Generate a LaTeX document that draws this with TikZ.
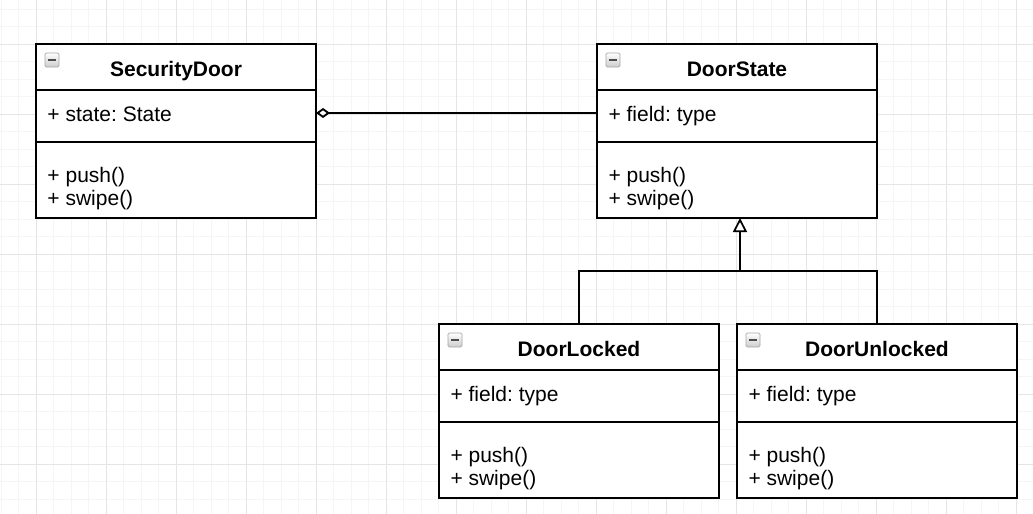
\documentclass[tikz,border=0pt]{standalone}
\usepackage{fontspec}
\setmainfont{Liberation Sans}
\usetikzlibrary{arrows.meta}
\frenchspacing
\newcommand\umlclass[7]{%
  % #1 id, #2 x, #3 y, #4 title, #5 attribute, #6 method1, #7 method2
  \node[sec,minimum height=34.5pt] (#1h) at (#2,#3) {};
  \node[sec,minimum height=39pt] (#1a) at (#1h.south west) {};
  \node[sec,minimum height=57pt] (#1m) at (#1a.south west) {};
  \node[icon] (#1i) at ({#2+9},{#3+9}) {};
  \draw[iconbar] ([xshift=2pt]#1i.west) -- ([xshift=-2pt]#1i.east);
  \node[ttl] (#1t) at ({#2+140},{#3+32}) {#4};
  \node[txt] (#1x) at ({#2+11.5},{#3+77}) {#5};
  \node[txt] (#1p) at ({#2+11.5},{#3+138}) {#6};
  \node[txt] (#1s) at ({#2+11.5},{#3+161}) {#7};
}
\begin{document}
\begin{tikzpicture}[x=0.75pt,y=-0.75pt,
  every node/.style={inner sep=0pt,outer sep=0pt},
  gminor/.style={draw=black!4,line width=0.75pt},
  gmajor/.style={draw=black!10,line width=0.75pt},
  sec/.style={draw=black,line width=1.4pt,fill=white,minimum width=210pt,anchor=north west},
  icon/.style={draw=black!35,line width=0.6pt,top color=white,bottom color=black!20,rounded corners=1pt,minimum size=10.5pt,anchor=north west},
  iconbar/.style={draw=black!70,line width=1.5pt},
  ttl/.style={anchor=base,font=\fontsize{15.75pt}{18pt}\selectfont\bfseries},
  txt/.style={anchor=base west,font=\fontsize{15.75pt}{18pt}\selectfont},
  edge/.style={draw=black,line width=1.4pt},
]
\useasboundingbox (0,0) rectangle (1033,514);
\fill[white] (0,0) rectangle (1033,514);
\foreach \k in {0,...,59} \draw[gminor] ({1+17.5*\k},0) -- ({1+17.5*\k},514);
\foreach \k in {0,...,29} \draw[gminor] (0,{9+17.5*\k}) -- (1033,{9+17.5*\k});
\foreach \k in {0,...,14} \draw[gmajor] ({36+70*\k},0) -- ({36+70*\k},514);
\foreach \k in {0,...,6} \draw[gmajor] (0,{44+70*\k}) -- (1033,{44+70*\k});

\umlclass{sd}{36}{44}{SecurityDoor}{+ state: State}{+ push()}{+ swipe()}
\umlclass{ds}{597}{44}{DoorState}{+ field: type}{+ push()}{+ swipe()}
\umlclass{dl}{439}{324}{DoorLocked}{+ field: type}{+ push()}{+ swipe()}
\umlclass{du}{737}{324}{DoorUnlocked}{+ field: type}{+ push()}{+ swipe()}

% aggregation
\draw[edge,{Diamond[fill=white,length=10.5pt,width=7.5pt]}-] ([yshift=2.25pt]sda.east) -- ([yshift=2.25pt]dsa.west);

% generalization
\coordinate (jn) at (740,271);
\draw[edge] (dlh.north) |- (jn);
\draw[edge] (duh.north) |- (jn);
\draw[edge,line width=2.2pt,-{Triangle[fill=white,length=10.5pt,width=10.5pt,line width=1.3pt]}] (jn) -- (dsm.south -| jn);
\end{tikzpicture}
\end{document}
